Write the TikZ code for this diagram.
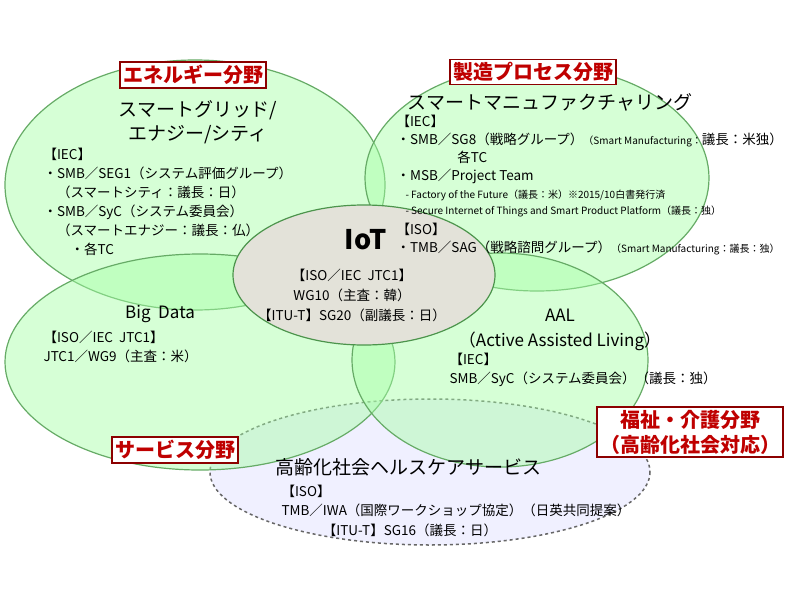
\documentclass[tikz,border=0pt]{standalone}
\usepackage{fontspec}
\setmainfont{Noto Sans CJK JP}
\begin{document}
\begin{tikzpicture}[x=1pt,y=-1pt,
  ell/.style={draw=green!45!black!60,line width=1.2pt,fill=green!35!white,fill opacity=0.45},
  lab/.style={draw=red!55!black,line width=1.5pt,fill=white,text=red!75!black,font=\fontsize{20}{25}\selectfont\bfseries,inner sep=3pt,align=center},
  ttl/.style={font=\fontsize{19}{24}\selectfont,align=center},
  txt/.style={font=\fontsize{13.5}{19}\selectfont,align=left,anchor=north west},
  sm/.style={font=\fontsize{10}{16}\selectfont}]
\useasboundingbox (0,0) rectangle (800,600);
\fill[white] (0,0) rectangle (800,600);
\draw[dashed,line width=1.5pt,draw=black!60,fill=blue!6] (430,472) ellipse [x radius=220,y radius=73];
\draw[ell] (195,185) ellipse [x radius=190,y radius=125];
\draw[ell] (537,178) ellipse [x radius=172,y radius=113];
\draw[ell] (200,362) ellipse [x radius=195,y radius=108];
\draw[ell] (500,360) ellipse [x radius=148,y radius=107];
\draw[draw=green!40!black!70,line width=1.2pt,fill=olive!18!gray!25!white] (364,275) ellipse [x radius=131,y radius=70];

\node[lab] (l1) at (193,75) {エネルギー分野};
\node[lab] (l2) at (533,72) {製造プロセス分野};
\node[lab] (l3) at (175,450) {サービス分野};
\node[lab] (l4) at (690,432) {福祉・介護分野\\（高齢化社会対応）};

\node[ttl] (t1) at (198,122) {スマートグリッド/\\エナジー/シティ};
\node[txt] (b1) at (40,145) {【IEC】\\・SMB／SEG1（システム評価グループ）\\\quad（スマートシティ：議長：日）\\・SMB／SyC（システム委員会）\\\quad（スマートエナジー：議長：仏）\\\qquad・各TC};

\node[ttl] (t2) at (550,102) {スマートマニュファクチャリング};
\node[txt,font=\fontsize{13.5}{18}\selectfont] (b2) at (393,112) {【IEC】\\・SMB／SG8（戦略グループ）{\fontsize{10}{12}\selectfont（Smart Manufacturing：}議長：米独）\\\hspace{4.5em}各TC\\・MSB／Project Team};
\node[sm,anchor=north west,align=left] (b3) at (402,186) {- Factory of the Future（議長：米）※2015/10白書発行済\\- Secure Internet of Things and Smart Product Platform（議長：独）};
\node[txt,font=\fontsize{13.5}{18}\selectfont] (b4) at (393,220) {【ISO】\\・TMB／SAG（戦略諮問グループ）{\fontsize{10}{12}\selectfont（Smart Manufacturing：議長：独）}};

\node[font=\fontsize{27}{30}\selectfont\bfseries] (iot) at (366,240) {IoT};
\node[font=\fontsize{13.5}{20}\selectfont,align=center] (iotb) at (352,295) {【ISO／IEC\ \ JTC1】\\WG10（主査：韓）\\【ITU-T】SG20（副議長：日）};

\node[ttl,font=\fontsize{17}{20}\selectfont] (t3) at (160,314) {Big\ \ Data};
\node[txt] (b5) at (40,328) {【ISO／IEC\ \ JTC1】\\JTC1／WG9（主査：米）};

\node[ttl,font=\fontsize{17}{25}\selectfont] (t4) at (560,330) {AAL\\（Active Assisted Living）};
\node[txt] (b6) at (446,350) {【IEC】\\SMB／SyC（システム委員会）（議長：独）};

\node[ttl] (t5) at (408,467) {高齢化社会ヘルスケアサービス};
\node[txt] (b7) at (278,482) {【ISO】\\TMB／IWA（国際ワークショップ協定）（日英共同提案）};
\node[font=\fontsize{13.5}{18}\selectfont] (b8) at (410,530) {【ITU-T】SG16（議長：日）};
\end{tikzpicture}
\end{document}
